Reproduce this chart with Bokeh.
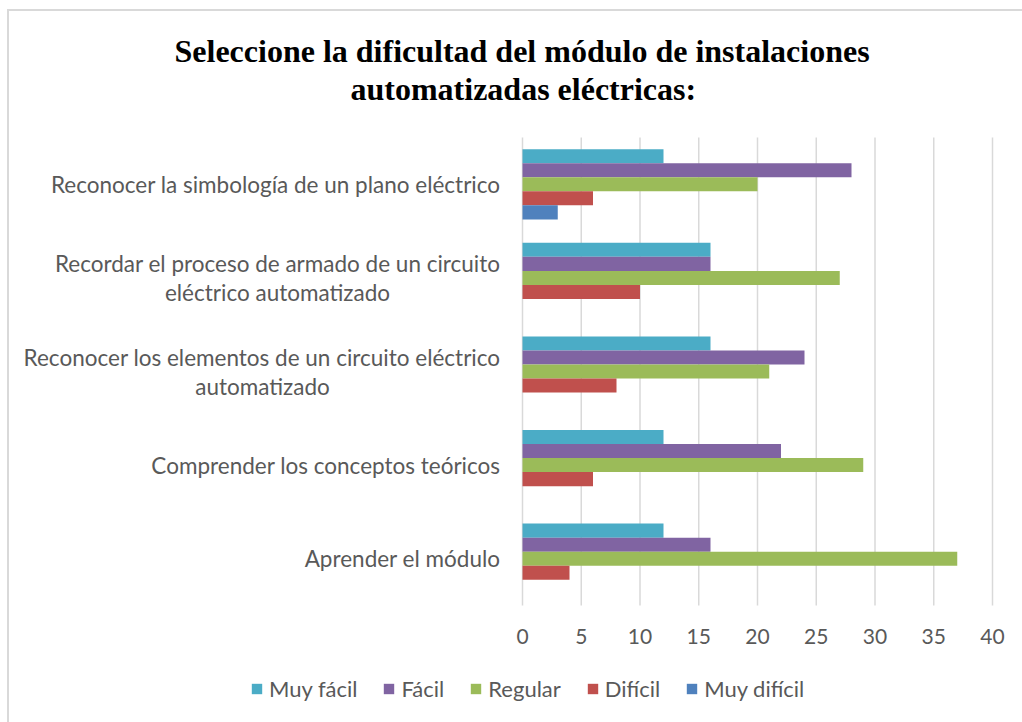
from bokeh.plotting import figure
from bokeh.models import Legend, LegendItem, Range1d, ColumnDataSource, Label
from bokeh.transform import dodge
from bokeh.embed import file_html
from bokeh.resources import INLINE

# ---- data ----
categories = [
    ["Aprender el módulo"],
    ["Comprender los conceptos teóricos"],
    ["Reconocer los elementos de un circuito eléctrico", "automatizado"],
    ["Recordar el proceso de armado de un circuito", "eléctrico automatizado"],
    ["Reconocer la simbología de un plano eléctrico"],
]
series = ["Muy fácil", "Fácil", "Regular", "Difícil", "Muy difícil"]
muy_facil = [12, 12, 16, 16, 12]
facil = [16, 22, 24, 16, 28]
regular = [37, 29, 21, 27, 20]
dificil = [4, 6, 8, 10, 6]
muy_dificil = [0, 0, 0, 0, 3]
x_ticks = [0, 5, 10, 15, 20, 25, 30, 35, 40]
x_tick_labels = ["0", "5", "10", "15", "20", "25", "30", "35", "40"]
colors = ["#4BACC6", "#8064A2", "#9BBB59", "#C0504D", "#4F81BD"]
title_lines = ["Seleccione la dificultad del módulo de instalaciones",
               "automatizadas eléctricas:"]

values = [muy_facil, facil, regular, dificil, muy_dificil]
ypos = [i + 0.5 for i in range(len(categories))]
src = ColumnDataSource(dict(y=ypos, **{s: v for s, v in zip(series, values)}))

W, H = 1022, 722
FONT = "Lato"
GRAY = "#595959"
PX = 11.75   # px per x unit  (0 at x=522, 40 at x=992)
PY = 93.6    # px per category (top 137, bottom 605)

p = figure(width=W, height=H, output_backend="svg", toolbar_location=None,
           x_range=Range1d(-522 / PX, (W - 522) / PX),
           y_range=Range1d(-(H - 605) / PY, 5 + 137 / PY),
           min_border=0)
p.outline_line_color = None
p.border_fill_alpha = 0
p.background_fill_alpha = 0
p.styles = {
    "background": "linear-gradient(#d9d9d9,#d9d9d9) 7px 9px / 2px 100% no-repeat, "
                  "linear-gradient(#d9d9d9,#d9d9d9) 7px 9px / 100% 2px no-repeat, white"
}
p.axis.visible = False
p.grid.visible = False

# vertical gridlines over the category area
p.segment(x0=x_ticks, x1=x_ticks, y0=0, y1=len(categories),
          line_color="#d9d9d9", line_width=1.5)

# x tick labels
p.text(x=x_ticks, y=[0] * len(x_ticks), text=x_tick_labels, y_offset=31,
       text_align="center", text_baseline="middle",
       text_font={"value": FONT}, text_font_size="21px", text_color=GRAY)

offsets = [0.3, 0.15, 0.0, -0.15, -0.3]
items = []
for s, c, off in zip(series, colors, offsets):
    r = p.hbar(y=dodge("y", off, range=p.y_range), left=0, right=s, height=0.15,
               source=src, fill_color=c, line_color=None)
    items.append(LegendItem(label=s, renderers=[r]))

# category labels, left of x = 0
one_y, one_t = [], []
l1_y, l1_t, l2_y, l2_t, l2_off = [], [], [], [], []
for y, lines in zip(ypos, categories):
    if len(lines) == 1:
        one_y.append(y); one_t.append(lines[0])
    else:
        l1_y.append(y); l1_t.append(lines[0])
        l2_y.append(y); l2_t.append(lines[1])
        l2_off.append(-260 if lines[1] == "automatizado" else -245)

common = dict(text_font={"value": FONT}, text_font_size="22.5px", text_color=GRAY)
p.text(x=[0] * len(one_y), y=one_y, text=one_t, x_offset=-22,
       text_align="right", text_baseline="middle", **common)
p.text(x=[0] * len(l1_y), y=l1_y, text=l1_t, x_offset=-22, y_offset=-14,
       text_align="right", text_baseline="middle", **common)
p.text(x=[0] * len(l2_y), y=l2_y, text=l2_t, x_offset=l2_off, y_offset=15,
       text_align="center", text_baseline="middle", **common)

legend = Legend(items=items, orientation="horizontal", location=(250, 20),
                glyph_width=13, glyph_height=13, label_standoff=6, spacing=25,
                padding=0, margin=0, border_line_color=None,
                background_fill_alpha=0, label_text_font=FONT,
                label_text_font_size="22px", label_text_color=GRAY)
p.add_layout(legend)

# title
for t, x0, yc in zip(title_lines, [174, 350], [50, 88]):
    p.add_layout(Label(x=x0, y=H - yc, x_units="screen", y_units="screen",
                       text=t, text_align="left", text_baseline="middle",
                       text_font="Liberation Serif", text_font_style="bold",
                       text_font_size="32px", text_color="black"))

open("out.html", "w").write(file_html(p, INLINE))
